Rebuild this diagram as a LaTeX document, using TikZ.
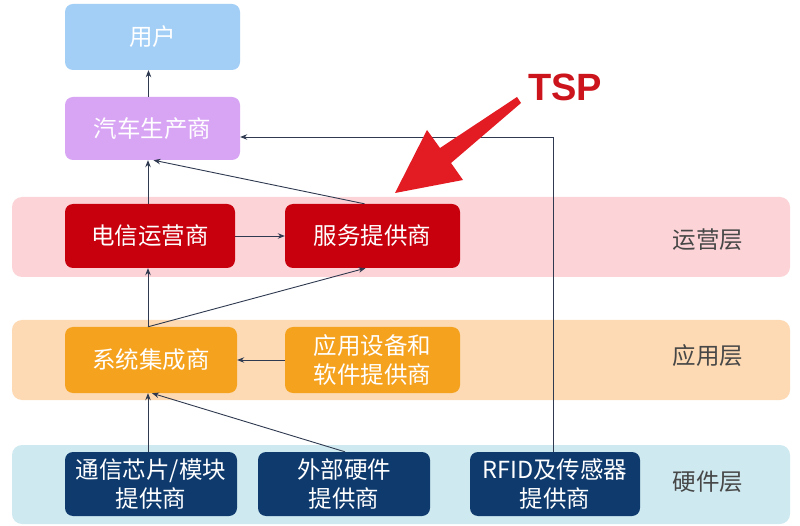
\documentclass[tikz,border=0pt]{standalone}
\usepackage{fontspec}
\setmainfont{Liberation Sans}
\newfontfamily\cjk{Noto Sans CJK SC}
\usetikzlibrary{arrows.meta}

\definecolor{userblue}{HTML}{A3CFF7}
\definecolor{carpurple}{HTML}{D8A4F4}
\definecolor{opred}{HTML}{C8000E}
\definecolor{apporange}{HTML}{F5A21F}
\definecolor{hwnavy}{HTML}{0E3A6D}
\definecolor{bandpink}{HTML}{FCD4D8}
\definecolor{bandorange}{HTML}{FDDAB4}
\definecolor{bandblue}{HTML}{CFE9F1}
\definecolor{linkcol}{HTML}{2F3A50}
\definecolor{tspred}{HTML}{E31B23}
\definecolor{tsptext}{HTML}{CC141C}

\tikzset{
  band/.style={fill=#1, draw=none, rounded corners=10pt},
  box/.style={fill=#1, draw=none, rounded corners=8pt, text=white,
    font=\cjk\fontsize{23.5}{29}\selectfont, align=center, inner sep=0pt},
  layerlabel/.style={text=black!72, font=\cjk\fontsize{23.5}{28}\selectfont},
  link/.style={draw=linkcol, line width=0.9pt,
    -{Stealth[length=7pt,width=5.5pt]}},
}

\begin{document}
\begin{tikzpicture}[x=1pt,y=-1pt]
\useasboundingbox (0,0) rectangle (800,526);
\fill[white] (0,0) rectangle (800,526);

% layer bands
\fill[band=bandpink]   (12,197) rectangle (790,277);
\fill[band=bandorange] (12,320) rectangle (790,400);
\fill[band=bandblue]   (12,445) rectangle (790,524);

% boxes
\node[box=userblue,  minimum width=175pt, minimum height=66pt] (user) at (152.5,37) {用户};
\node[box=carpurple, minimum width=175pt, minimum height=63pt] (car)  at (152.5,128.5) {汽车生产商};
\node[box=opred,     minimum width=170pt, minimum height=64pt] (tel)  at (150,236) {电信运营商};
\node[box=opred,     minimum width=175pt, minimum height=64pt] (svc)  at (372.5,236) {服务提供商};
\node[box=apporange, minimum width=172pt, minimum height=66pt] (sys)  at (151,360) {系统集成商};
\node[box=apporange, minimum width=175pt, minimum height=66pt] (app)  at (372.5,360) {应用设备和\\软件提供商};
\node[box=hwnavy,    minimum width=172pt, minimum height=64pt] (chip) at (151,484) {通信芯片/模块\\提供商};
\node[box=hwnavy,    minimum width=172pt, minimum height=64pt] (ext)  at (344,484) {外部硬件\\提供商};
\node[box=hwnavy,    minimum width=170pt, minimum height=64pt] (rfid) at (555,484) {RFID及传感器\\提供商};

% layer names
\node[layerlabel] (lop)  at (708,240) {运营层};
\node[layerlabel] (lapp) at (708,356) {应用层};
\node[layerlabel] (lhw)  at (708,482) {硬件层};

% connectors
\draw[link] ([xshift=-4pt]car.north) -- ([xshift=-4pt]user.south);
\draw[link] ([xshift=-2pt]tel.north) -- ([xshift=-2pt]tel.north |- car.south);
\draw[link] ([xshift=-8pt]svc.north) -- ([xshift=1pt]car.south);
\draw[link] (tel.east) -- (svc.west);
\draw[link] ([xshift=-3pt]sys.north) -- ([xshift=-3pt]sys.north |- tel.south);
\draw[link] ([xshift=-3pt]sys.north) -- ([xshift=-7pt]svc.south);
\draw[link] (app.west) -- (sys.east);
\draw[link] ([xshift=-3pt]chip.north) -- ([xshift=-3pt]chip.north |- sys.south);
\draw[link] ([xshift=1pt]ext.north) -- ([xshift=1pt]sys.south);
\draw[link] ([xshift=-2pt]rfid.north) |- ([yshift=-8.5pt]car.east);

% TSP callout arrow
\fill[tspred] (395,193) -- (427,130) -- (440,148) -- (517,97) -- (521,103)
  -- (451,163) -- (463,180) -- cycle;
\node[text=tsptext, font=\bfseries\fontsize{38}{40}\selectfont]
  (tsp) at (565,87) {TSP};
\end{tikzpicture}
\end{document}
